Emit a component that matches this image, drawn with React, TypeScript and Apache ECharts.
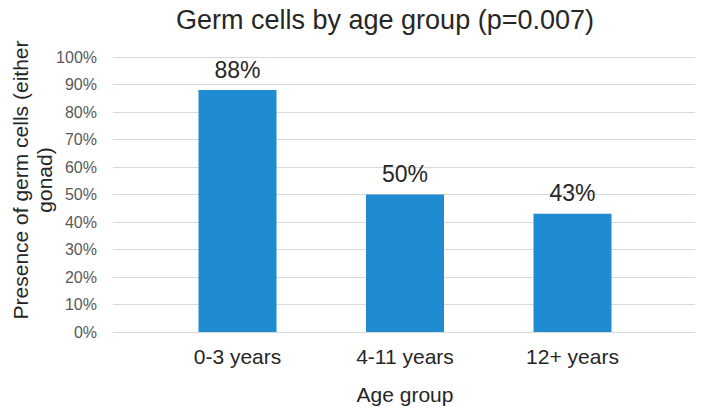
import React, { useEffect, useRef } from "react";
import * as echarts from "echarts";

const categories = ["0-3 years", "4-11 years", "12+ years"];
const values = [88, 50, 43];
const yTicks = [0, 10, 20, 30, 40, 50, 60, 70, 80, 90, 100];
const titleText = "Germ cells by age group (p=0.007)";
const xName = "Age group";
const yNameLines = ["Presence of germ cells (either", "gonad)"];

const FONT = "'Liberation Sans', Arial, sans-serif";

export default function App() {
  const ref = useRef<HTMLDivElement>(null);
  useEffect(() => {
    document.body.style.margin = "0";
    const chart = echarts.init(ref.current!, undefined, { renderer: "svg" });
    const top = 57;
    const bottom = 414 - 332;
    chart.setOption({
      animation: false,
      backgroundColor: "#ffffff",
      grid: [
        { left: 113, right: 704 - 695, top, bottom },
        { left: 153.75, right: 704 - 656.25, top, bottom },
      ],
      xAxis: [
        { type: "value", gridIndex: 0, show: false, min: 0, max: 1 },
        {
          type: "category",
          gridIndex: 1,
          data: categories,
          axisLine: { show: false },
          axisTick: { show: false },
          axisLabel: { fontFamily: FONT, fontSize: 21, color: "#262626", margin: 14 },
          name: xName,
          nameLocation: "middle",
          nameGap: 62,
          nameTextStyle: { fontFamily: FONT, fontSize: 21, color: "#262626", verticalAlign: "middle" },
        },
      ],
      yAxis: [
        {
          type: "value",
          gridIndex: 0,
          min: yTicks[0],
          max: yTicks[yTicks.length - 1],
          interval: 10,
          axisLine: { show: false },
          axisTick: { show: false },
          splitLine: { lineStyle: { color: "#d9d9d9", width: 1 } },
          axisLabel: {
            fontFamily: FONT,
            fontSize: 16,
            color: "#595959",
            margin: 16,
            formatter: (v: number) => v + "%",
          },
        },
        {
          type: "value",
          gridIndex: 1,
          min: 0,
          max: 100,
          show: false,
        },
      ],
      series: [
        {
          type: "bar",
          xAxisIndex: 1,
          yAxisIndex: 1,
          data: values,
          barWidth: 78,
          itemStyle: { color: "#1F8BD0" },
          label: {
            show: true,
            position: "top",
            distance: 9,
            formatter: (p: any) => p.value + "%",
            fontFamily: FONT,
            fontSize: 23,
            color: "#262626",
          },
        },
      ],
      graphic: [
        {
          type: "text",
          x: 385,
          y: 20,
          style: {
            text: titleText,
            fontFamily: FONT,
            fontSize: 27,
            fill: "#262626",
            align: "center",
            verticalAlign: "middle",
          },
        },
        {
          type: "text",
          x: 20,
          y: 180,
          rotation: Math.PI / 2,
          style: {
            text: yNameLines[0],
            fontFamily: FONT,
            fontSize: 21,
            fill: "#262626",
            align: "center",
            verticalAlign: "middle",
          },
        },
        {
          type: "text",
          x: 44,
          y: 180,
          rotation: Math.PI / 2,
          style: {
            text: yNameLines[1],
            fontFamily: FONT,
            fontSize: 21,
            fill: "#262626",
            align: "center",
            verticalAlign: "middle",
          },
        },
      ],
    });
    return () => chart.dispose();
  }, []);
  return <div ref={ref} style={{ width: 704, height: 414 }} />;
}
